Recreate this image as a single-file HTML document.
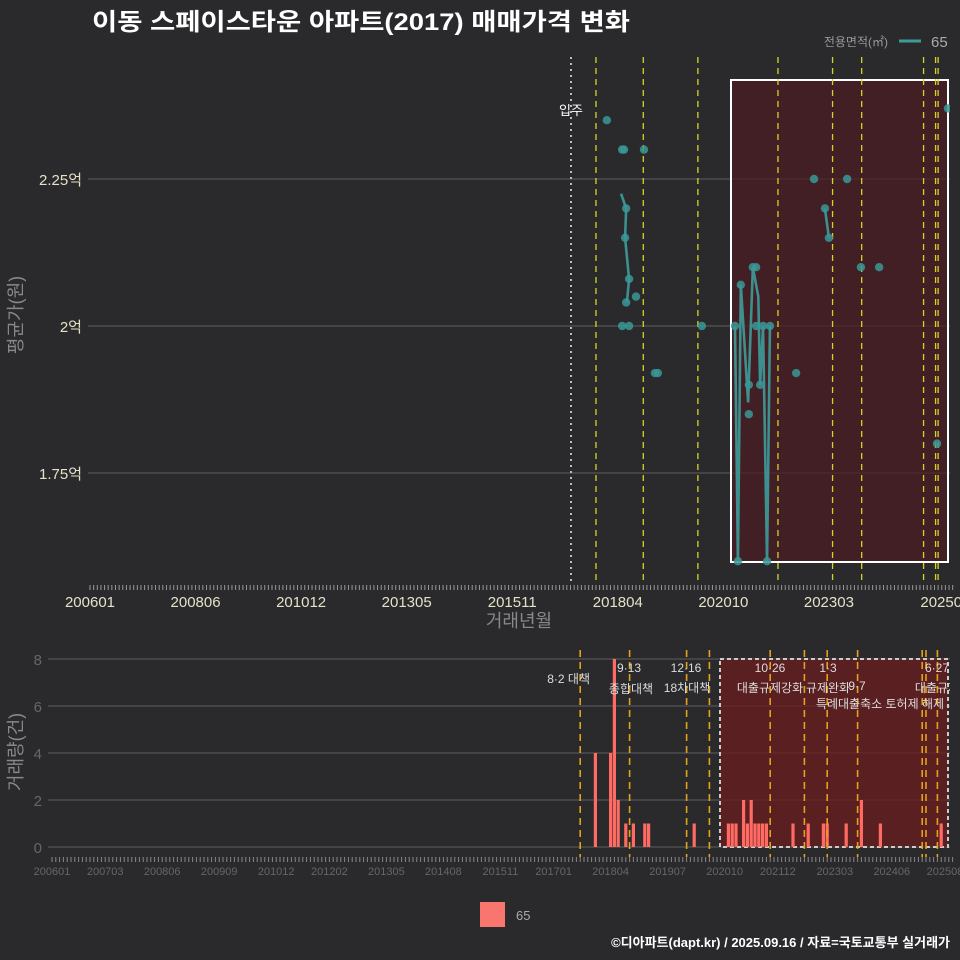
<!DOCTYPE html>
<html><head><meta charset="utf-8"><style>
html,body{margin:0;padding:0;background:#2a2a2c;}
svg{display:block;font-family:"Liberation Sans","Noto Sans CJK KR",sans-serif;}
</style></head><body>
<svg id="c" width="960" height="960" viewBox="0 0 960 960" xmlns="http://www.w3.org/2000/svg">
<rect width="960" height="960" fill="#2a2a2c"/>
<text x="92" y="30" fill="#fff" font-size="24" font-weight="bold" textLength="538" lengthAdjust="spacingAndGlyphs">이동 스페이스타운 아파트(2017) 매매가격 변화</text>
<g>
<text x="888" y="46" fill="#999" font-size="12" text-anchor="end">전용면적(㎡)</text>
<line x1="899" y1="41" x2="921" y2="41" stroke="#3d9c9a" stroke-width="3"/>
<text x="931" y="47" fill="#aaa" font-size="15">65</text>
</g>
<g id="topg"></g>
<g id="botg"></g>
<g>
<rect x="480" y="902" width="25" height="25" fill="#f8766d"/>
<text x="516" y="920" fill="#aaa" font-size="13">65</text>
</g>
<text x="950" y="947" fill="#fff" font-size="13" font-weight="bold" text-anchor="end">©디아파트(dapt.kr) / 2025.09.16 / 자료=국토교통부 실거래가</text>
</svg>
<script>
// ---- top chart data ----
const ptMonths=[142.0,146.2,146.7,152.2,147.3,147.0,148.1,147.3,150.0,146.2,148.1,155.2,156.0,168.1,177.2,178.0,178.8,181.0,181.0,182.1,183.0,183.0,184.9,186.8,184.1,186.0,194.0,198.9,201.9,203.0,208.0,211.8,216.8,232.7,235.7];
const ptValues=[2.35,2.30,2.30,2.30,2.20,2.15,2.08,2.04,2.05,2.0,2.0,1.92,1.92,2.0,2.0,1.6,2.07,1.9,1.85,2.1,2.1,2.0,2.0,2.0,1.9,1.6,1.92,2.25,2.2,2.15,2.25,2.1,2.1,1.8,2.37];
const line1Months=[145.9,147.3,147.0,148.1,147.5];
const line1Values=[2.225,2.2,2.15,2.08,2.04];
const line2Months=[177.2,178.0,178.8,180.8,182.1,183.6,184.1,184.9,186.0,186.8];
const line2Values=[2.0,1.6,2.07,1.87,2.1,2.05,1.9,2.0,1.6,2.0];
const line3Months=[201.9,203.0];
const line3Values=[2.2,2.15];
const yTicks=[1.75,2.0,2.25];
const yTickLabels=["1.75억","2억","2.25억"];
const xTickMonths=[0,29,58,87,116,145,174,203,235];
const xTickLabels=["200601","200806","201012","201305","201511","201804","202010","202303","202508"];
const topPolicyMonths=[139,152,167,189,204,212,229,232.3,233];
// ---- bottom chart data ----
const barMonths=[143,147,148,149,151,153,156,157,169,178,179,180,182,183,184,185,186,187,188,195,199,203,204,209,213,218,234,237];
const barCounts=[4,4,8,2,1,1,1,1,1,1,1,1,2,1,2,1,1,1,1,1,1,1,1,1,2,1,1,1];
const bYTicks=[0,2,4,6,8];
const bXTickMonths=[0,14,29,44,59,73,88,103,118,132,147,162,177,191,206,221,235];
const bXTickLabels=["200601","200703","200806","200909","201012","201202","201305","201408","201511","201701","201804","201907","202010","202112","202303","202406","202508"];
const botPolicyMonths=[139,152,167,173,189,198,204,212,229,230,233];
const policyTexts=[["8·2 대책",590,683,"end"],["9·13",629,672,"middle"],["종합대책",631,693,"middle"],["12·16",686,672,"middle"],["18차대책",687,692,"middle"],["10·26",770,672,"middle"],["대출규제강화",770,692,"middle"],["1·3",828,672,"middle"],["규제완화",828,692,"middle"],["9·7",857,690,"middle"],["특례대출축소 토허제 해제",880,708,"middle"],["6·27",937,672,"middle"],["대출규제",937,692,"middle"]];

const NS="http://www.w3.org/2000/svg";
function mk(p,t,a){const e=document.createElementNS(NS,t);for(const k in a)e.setAttribute(k,a[k]);p.appendChild(e);return e;}
const xt=m=>90+3.64*m, yt=v=>326-(v-2)*588;
const xb=m=>52+3.8*m, yb=c=>847-c*23.5;
const topG=document.getElementById('topg'), botG=document.getElementById('botg');

const defs=mk(document.getElementById('c'),'defs',{});
const cp=mk(defs,'clipPath',{id:'tc'}); mk(cp,'rect',{x:88,y:55,width:862,height:530});
const cp2=mk(defs,'clipPath',{id:'bc'}); mk(cp2,'rect',{x:48,y:645,width:902,height:215});

yTicks.forEach((v,i)=>{
 const g=mk(topG,'line',{x1:88,x2:950,y1:yt(v),y2:yt(v),stroke:'#5e5e5e','stroke-width':1});
 
 
 const t=mk(topG,'text',{x:82,y:yt(v)+6,fill:'#e6e2c8','font-size':15,'text-anchor':'end'});
 t.textContent=yTickLabels[i];
 
 
});
const box=mk(topG,'rect',{x:731,y:80,width:217,height:482,fill:'#4a1c22','fill-opacity':0.75,stroke:'#fff','stroke-width':2});


const mv=mk(topG,'line',{x1:571,x2:571,y1:57,y2:585,stroke:'#bbb','stroke-width':2,'stroke-dasharray':'2,4'});


const mvt=mk(topG,'text',{x:571,y:115,fill:'#fff','font-size':13,'text-anchor':'middle'});
mvt.textContent='입주';


topPolicyMonths.forEach(m=>{
 const l=mk(topG,'line',{x1:xt(m),x2:xt(m),y1:57,y2:585,stroke:'#d4d422','stroke-width':1.3,'stroke-dasharray':'6,5','clip-path':'url(#tc)'});
 
 
});
[[line1Months,line1Values],[line2Months,line2Values],[line3Months,line3Values]].forEach(([ms,vs])=>{
 const p=mk(topG,'polyline',{points:ms.map((m,i)=>xt(m)+','+yt(vs[i])).join(' '),fill:'none',stroke:'#3d9c9a','stroke-width':2.6,'stroke-opacity':0.9,'clip-path':'url(#tc)'});
 
 
});
ptMonths.forEach((m,i)=>{
 const c=mk(topG,'circle',{cx:xt(m),cy:yt(ptValues[i]),r:4.2,fill:'#3a9896','fill-opacity':0.85,'clip-path':'url(#tc)'});
 
 
});
for(let m=0;m<=237;m++){
 const tk=mk(topG,'line',{x1:xt(m),x2:xt(m),y1:585,y2:590,stroke:'#999','stroke-width':1});
 
 
}
xTickMonths.forEach((m,i)=>{
 const t=mk(topG,'text',{x:xt(m),y:607,fill:'#e6e2c8','font-size':15,'text-anchor':'middle'});
 t.textContent=xTickLabels[i];
 
 
});
const xtl=mk(topG,'text',{x:519,y:627,fill:'#888','font-size':18,'text-anchor':'middle'});
xtl.textContent='거래년월';


const ytl=mk(topG,'text',{x:0,y:0,fill:'#888','font-size':18,'text-anchor':'middle',transform:'translate(22,315) rotate(-90)'});
ytl.textContent='평균가(원)';



bYTicks.forEach(v=>{
 const g=mk(botG,'line',{x1:48,x2:950,y1:yb(v),y2:yb(v),stroke:'#5e5e5e','stroke-width':1});
 
 
 const t=mk(botG,'text',{x:42,y:yb(v)+6,fill:'#666','font-size':15,'text-anchor':'end'});
 t.textContent=v;
 
 
});
const bbox=mk(botG,'rect',{x:720,y:659,width:228,height:188,fill:'#6a1c1e','fill-opacity':0.75,stroke:'#ccc','stroke-width':2,'stroke-dasharray':'4,3'});


barMonths.forEach((m,i)=>{
 const r=mk(botG,'rect',{x:xb(m)-1.6,y:yb(barCounts[i]),width:3.2,height:barCounts[i]*23.5,fill:'#ff6b62','clip-path':'url(#bc)'});
 
 
});
botPolicyMonths.forEach(m=>{
 const l=mk(botG,'line',{x1:xb(m),x2:xb(m),y1:650,y2:857,stroke:'#e3a21a','stroke-width':1.6,'stroke-dasharray':'7,5','clip-path':'url(#bc)'});
 
 
});
policyTexts.forEach(p=>{
 const t=mk(botG,'text',{x:p[1],y:p[2],fill:'#ddd','font-size':12,'text-anchor':p[3],'clip-path':'url(#bc)'});
 t.textContent=p[0];
 
 
});
for(let m=0;m<=237;m++){
 const tk=mk(botG,'line',{x1:xb(m),x2:xb(m),y1:857,y2:862,stroke:'#888','stroke-width':1});
 
 
}
bXTickMonths.forEach((m,i)=>{
 const t=mk(botG,'text',{x:xb(m),y:875,fill:'#666','font-size':11,'text-anchor':'middle'});
 t.textContent=bXTickLabels[i];
 
 
});
const byt=mk(botG,'text',{x:0,y:0,fill:'#888','font-size':18,'text-anchor':'middle',transform:'translate(22,752) rotate(-90)'});
byt.textContent='거래량(건)';


</script>
</body></html>
